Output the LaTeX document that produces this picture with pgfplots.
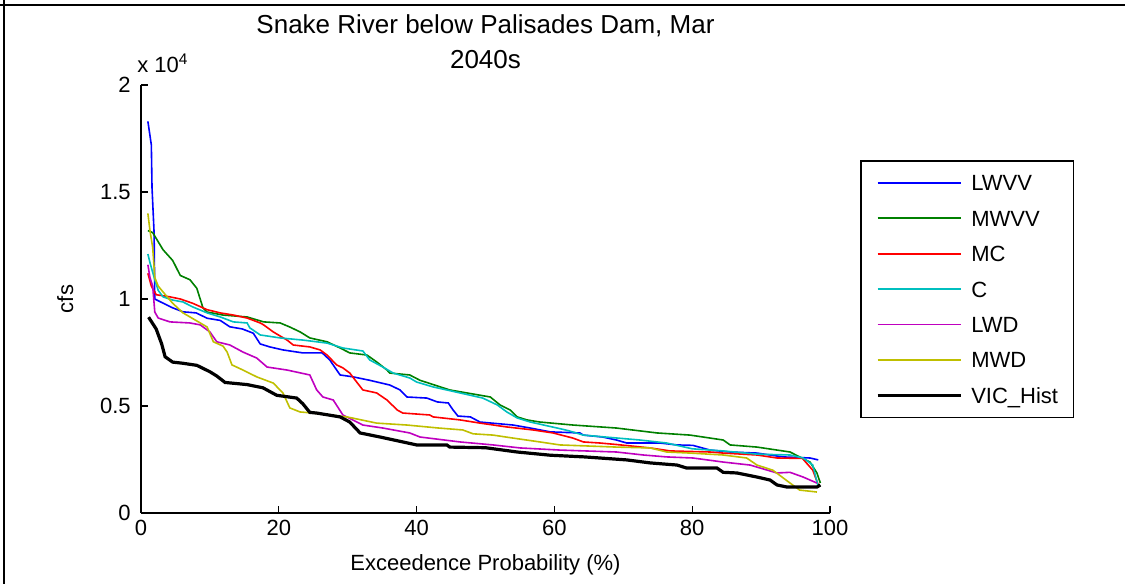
\documentclass[border=0pt]{standalone}
\usepackage{fontspec}
\setmainfont{Liberation Sans}
\usepackage{pgfplots}
\pgfplotsset{compat=1.18}

% MATLAB default line colours
\definecolor{mgreen}{rgb}{0,0.5,0}
\definecolor{mcyan}{rgb}{0,0.75,0.75}
\definecolor{mmagenta}{rgb}{0.75,0,0.75}
\definecolor{myellow}{rgb}{0.75,0.75,0}

\begin{document}
\begin{tikzpicture}[x=0.75pt,y=0.75pt]
\useasboundingbox (0,0) rectangle (1125,584);
\draw[line width=1.5pt] (0,579) -- (1125,579);
\draw[line width=1.5pt] (4,584) -- (4,0);
\begin{axis}[
    at={(105.75pt,53.25pt)}, anchor=south west,
    scale only axis,
    width=516.75pt, height=321pt,
    xmin=0, xmax=100, ymin=0, ymax=2,
    clip mode=individual,
    axis lines*=left,
    axis line style={line width=1pt},
    tick align=inside,
    major tick length=5.25pt,
    tick style={black, line width=1pt},
    xtick={0,20,40,60,80,100},
    xticklabels={0,20,40,60,80,100},
    ytick={0,0.5,1,1.5,2},
    yticklabels={0,0.5,1,1.5,2},
    ticklabel style={font=\fontsize{16.5}{19}\selectfont},
    xticklabel style={inner sep=0pt, anchor=north, yshift=-5.5pt},
    yticklabel style={inner sep=0pt, anchor=east, xshift=-7.5pt},
    xlabel={Exceedence Probability (\%)},
    ylabel={cfs},
    label style={font=\fontsize{16.5}{19}\selectfont},
    xlabel style={at={(axis description cs:0.5,-0.1215)}, anchor=center},
    ylabel style={at={(axis description cs:-0.110,0.5)}, anchor=center},
    title={Snake River below Palisades Dam, Mar\\2040s},
    title style={font=\fontsize{19.5}{26.25}\selectfont, align=center,
                 at={(axis description cs:0.5,1)}, anchor=south, yshift=3pt},
    legend style={at={(1.0435,0.8248)}, anchor=north west,
                  draw=black, line width=1.2pt,
                  inner xsep=11.5pt, inner ysep=7.4pt,
                  row sep=8.4pt, column sep=6.75pt,
                  font=\fontsize{16.5}{19}\selectfont,
                  nodes={inner sep=0pt, text height=15pt, text depth=3.2pt},
                  cells={anchor=west}},
    legend image code/.code={\draw[#1] (0pt,0pt) -- (62.25pt,0pt);},
    every axis plot/.append style={line width=1.2pt},
]
% LWVV
\addplot[blue] coordinates {
(1.0,1.83) (1.5,1.72) (1.6,1.52) (1.9,1.31) (2.0,1.0) (2.3,0.995) (4.5,0.96)
(6.1,0.94) (8,0.935) (9.6,0.91) (11.5,0.90) (12.9,0.87) (14.7,0.86) (16.3,0.84)
(17.3,0.79) (18.7,0.776) (20.6,0.762) (23.5,0.748) (26.3,0.748) (27.4,0.715)
(28.4,0.668) (28.9,0.645) (30.8,0.636) (33.2,0.62) (36.1,0.598) (37.6,0.575)
(38.6,0.542) (41.5,0.537) (43,0.519) (44.6,0.514) (45.3,0.481) (46,0.453)
(47.8,0.449) (49.2,0.425) (54,0.411) (56.5,0.397) (59.4,0.379) (63.7,0.374)
(64.2,0.364) (67,0.355) (69,0.341) (70.5,0.327) (75.3,0.327) (77.8,0.318)
(80.1,0.316) (82.6,0.294) (85.5,0.285) (89.4,0.28) (93.2,0.262) (97.1,0.257)
(98.3,0.248)
};
\addlegendentry{LWVV}
% MWVV
\addplot[mgreen] coordinates {
(1.0,1.32) (1.7,1.31) (3.2,1.23) (4.6,1.18) (5.7,1.11) (7.1,1.09) (8.1,1.05)
(9.0,0.958) (9.6,0.939) (11.9,0.925) (15.4,0.916) (17.8,0.893) (20.2,0.888)
(21.6,0.869) (23.1,0.846) (24.5,0.818) (27,0.8) (28.9,0.771) (30.3,0.748)
(32.8,0.738) (34.2,0.706) (35.7,0.668) (36.1,0.654) (39,0.645) (40.5,0.62)
(44.8,0.575) (47.3,0.561) (50.7,0.542) (52.1,0.505) (53.6,0.481) (54.6,0.449)
(56,0.435) (57.9,0.425) (62.7,0.411) (69,0.397) (74.9,0.374) (79.7,0.364)
(84.5,0.341) (85.5,0.318) (89.4,0.308) (94.2,0.285) (95.6,0.262) (97.1,0.238)
(98.1,0.187) (98.6,0.14)
};
\addlegendentry{MWVV}
% MC
\addplot[red] coordinates {
(1.0,1.12) (1.5,1.06) (2.2,1.02) (4.2,1.01) (5.7,1.0) (7.5,0.98) (9.6,0.95)
(11.5,0.935) (13.4,0.925) (15.4,0.911) (17.3,0.888) (17.8,0.879) (19.2,0.846)
(21.2,0.808) (22.1,0.785) (24.5,0.776) (26,0.762) (27,0.738) (28.4,0.692)
(29.3,0.678) (30.3,0.654) (31.3,0.612) (32.2,0.575) (34.2,0.561) (35.7,0.528)
(37.2,0.481) (38,0.467) (41.9,0.458) (42.4,0.449) (46.3,0.435) (49.2,0.42)
(53.1,0.402) (56.9,0.388) (59.8,0.374) (62.7,0.35) (64.2,0.332) (66.6,0.327)
(69,0.32) (73.9,0.304) (76.8,0.29) (82.6,0.285) (84.5,0.28) (89.4,0.271)
(92.3,0.257) (96,0.255) (97.5,0.2) (98.3,0.131)
};
\addlegendentry{MC}
% C
\addplot[mcyan] coordinates {
(1.0,1.21) (1.3,1.17) (2.0,1.09) (2.5,1.04) (3.2,1.01) (4.6,0.995) (6.1,0.986)
(7.5,0.963) (9.6,0.935) (11.5,0.916) (13.4,0.893) (15.4,0.888) (15.8,0.865)
(17.3,0.832) (20.2,0.818) (23.5,0.808) (27,0.794) (29.3,0.771) (32.2,0.757)
(33.2,0.715) (35.1,0.682) (36.6,0.654) (39,0.631) (40,0.612) (42.4,0.589)
(46.3,0.561) (49.6,0.537) (51.7,0.505) (53.1,0.472) (54.6,0.444) (56.5,0.425)
(60.4,0.397) (62,0.385) (64.2,0.364) (72.4,0.341) (76.3,0.327) (80,0.30)
(84.5,0.29) (89.4,0.275) (94.2,0.271) (96.1,0.257) (97.5,0.224) (98.3,0.121)
};
\addlegendentry{C}
% LWD
\addplot[mmagenta] coordinates {
(1.0,1.16) (1.3,1.10) (1.7,1.06) (2.0,0.939) (2.5,0.911) (4.2,0.893) (7.1,0.888)
(8.6,0.879) (10,0.846) (11,0.8) (12.9,0.785) (14.8,0.752) (16.8,0.724)
(18.3,0.682) (21.2,0.668) (24.5,0.645) (25.5,0.575) (26.4,0.542) (27.9,0.528)
(29.3,0.458) (32.2,0.411) (35.1,0.397) (39,0.374) (40.5,0.355) (46.3,0.332)
(51.1,0.318) (55,0.304) (60.8,0.294) (69,0.285) (72.9,0.271) (76.3,0.262)
(80.1,0.257) (84.5,0.238) (88.4,0.224) (92.3,0.187) (94.2,0.19) (96.1,0.168)
(98.1,0.14)
};
\addlegendentry{LWD}
% MWD
\addplot[myellow] coordinates {
(1.0,1.40) (1.3,1.32) (1.7,1.24) (2.0,1.10) (2.5,1.06) (3.8,1.01) (4.6,0.98)
(6.1,0.935) (8.6,0.888) (9.6,0.869) (10.5,0.8) (11.9,0.78) (12.5,0.752)
(13.2,0.692) (14.8,0.668) (16.8,0.636) (19.2,0.607) (20.6,0.561) (21.6,0.491)
(23.1,0.472) (25,0.467) (27.4,0.458) (29.9,0.449) (34.2,0.42) (38.6,0.411)
(43.2,0.397) (46.7,0.388) (48.2,0.37) (51.1,0.364) (54,0.35) (57.9,0.332)
(60.8,0.318) (69,0.308) (73.9,0.304) (76.3,0.285) (79.7,0.28) (84.5,0.271)
(87.9,0.257) (89.4,0.224) (91.7,0.2) (94.2,0.14) (95.6,0.107) (98.1,0.098)
};
\addlegendentry{MWD}
% VIC_Hist
\addplot[black, line width=2.4pt] coordinates {
(1.1,0.915) (2.2,0.86) (3.0,0.79) (3.5,0.73) (4.6,0.705) (6,0.70) (8.1,0.69)
(10,0.66) (11,0.64) (12.2,0.61) (15.4,0.60) (17.7,0.585) (19.7,0.55)
(22.6,0.537) (23.5,0.51) (24.5,0.47) (25.5,0.467) (28.9,0.449) (30.3,0.425)
(31.8,0.374) (34.7,0.355) (38,0.332) (40,0.318) (44.4,0.318) (44.8,0.308)
(50,0.305) (54.6,0.285) (59.4,0.27) (64.4,0.262) (70.5,0.248) (73.9,0.234)
(77.8,0.224) (79.2,0.21) (83.6,0.21) (84.5,0.19) (86.5,0.187) (89.4,0.168)
(91.3,0.154) (92.3,0.131) (93.8,0.121) (98.1,0.121) (98.6,0.131)
};
\addlegendentry{VIC\_Hist}
\node[anchor=south west, inner sep=0pt, font=\fontsize{16.5}{19}\selectfont]
  at (rel axis cs:0,1) [xshift=-3pt, yshift=9pt] {x 10\textsuperscript{4}};
\end{axis}
\end{tikzpicture}
\end{document}
